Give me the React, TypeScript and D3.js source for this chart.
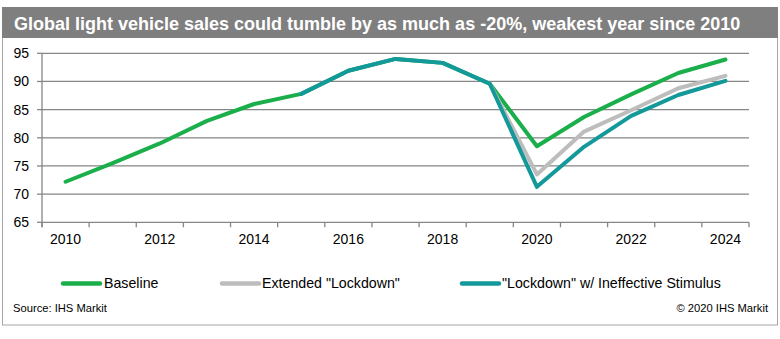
import React from "react";
import * as d3 from "d3";

const years = [2010, 2011, 2012, 2013, 2014, 2015, 2016, 2017, 2018, 2019, 2020, 2021, 2022, 2023, 2024];
const baseline = [72.2, 75.5, 79.0, 83.0, 86.0, 87.8, 91.9, 94.0, 93.3, 89.6, 78.5, 83.7, 87.7, 91.5, 93.9];
const extendedLockdown = [null, null, null, null, null, null, null, null, null, 89.6, 73.5, 81.1, 84.9, 88.8, 91.0];
const ineffectiveStimulus = [null, null, null, null, null, 87.8, 91.9, 94.0, 93.3, 89.6, 71.3, 78.4, 83.9, 87.6, 90.1];
const yTicks = [65, 70, 75, 80, 85, 90, 95];
const xLabelYears = [2010, 2012, 2014, 2016, 2018, 2020, 2022, 2024];
const seriesNames = ["Baseline", "Extended \"Lockdown\"", "\"Lockdown\" w/ Ineffective Stimulus"];
const title = "Global light vehicle sales could tumble by as much as -20%, weakest year since 2010";

const COLORS = ["#1aaf4b", "#bdbdbd", "#14999a"];
const FONT = "Arial, 'Liberation Sans', Helvetica, sans-serif";

export default function App() {
  const W = 780, H = 339;
  const x0 = 42, x1 = 749, yTop = 53.3, yBot = 222.3;
  const x = d3.scaleBand<number>().domain(years).range([x0, x1]).padding(0);
  const y = d3.scaleLinear().domain([65, 95]).range([yBot, yTop]);
  const cx = (yr: number) => (x(yr) as number) + x.bandwidth() / 2;

  const line = d3
    .line<number | null>()
    .defined((d) => d != null)
    .x((_, i) => cx(years[i]))
    .y((d) => y(d as number));

  const series = [baseline, extendedLockdown, ineffectiveStimulus];
  const boundaries = years.map((yr) => x(yr) as number).concat([x1]);

  const legendItems = [
    { x: 63, tx: 104 },
    { x: 222, tx: 262 },
    { x: 462, tx: 502 },
  ];

  return (
    <svg width={W} height={H} style={{ position: "absolute", left: 0, top: 0, background: "#fff" }} fontFamily={FONT}>
      {/* frame */}
      <rect x={2.5} y={7.5} width={775} height={317.5} fill="#fff" stroke="#a6a6a6" strokeWidth={1} />
      {/* title bar */}
      <rect x={2} y={7} width={776} height={31} fill="#7f7f7f" />
      <text x={14} y={29.5} fill="#fff" fontWeight="bold" fontSize={18}>
        {title}
      </text>

      {/* gridlines */}
      {yTicks.map((t) => (
        <line key={"g" + t} x1={x0} x2={x1} y1={y(t)} y2={y(t)} stroke="#868686" strokeWidth={1.3} />
      ))}
      {/* y axis */}
      <line x1={x0} x2={x0} y1={yTop} y2={yBot + 5} stroke="#868686" strokeWidth={1.3} />
      {yTicks.map((t) => (
        <g key={"yt" + t}>
          <line x1={x0 - 5} x2={x0} y1={y(t)} y2={y(t)} stroke="#868686" strokeWidth={1.3} />
          <text x={29} y={y(t)} dy="0.35em" textAnchor="end" fontSize={14} fill="#000">
            {t}
          </text>
        </g>
      ))}
      {/* x ticks */}
      {boundaries.map((bx, i) => (
        <line key={"xt" + i} x1={bx} x2={bx} y1={yBot} y2={yBot + 5} stroke="#868686" strokeWidth={1.3} />
      ))}
      {xLabelYears.map((yr) => (
        <text key={"xl" + yr} x={cx(yr)} y={239.5} dy="0.35em" textAnchor="middle" fontSize={14} fill="#000">
          {yr}
        </text>
      ))}

      {/* series */}
      {series.map((s, i) => (
        <path
          key={"s" + i}
          d={line(s) || ""}
          fill="none"
          stroke={COLORS[i]}
          strokeWidth={4}
          strokeLinejoin="round"
          strokeLinecap="round"
        />
      ))}

      {/* legend */}
      {legendItems.map((it, i) => (
        <g key={"lg" + i}>
          <line x1={it.x} x2={it.x + 37} y1={283.5} y2={283.5} stroke={COLORS[i]} strokeWidth={4.5} strokeLinecap="round" />
          <text x={it.tx} y={283.5} dy="0.35em" fontSize={14.2} fill="#000">
            {seriesNames[i]}
          </text>
        </g>
      ))}

      {/* footer */}
      <text x={13} y={308.5} dy="0.35em" fontSize={11.2} fill="#000">
        Source: IHS Markit
      </text>
      <text x={768} y={308.5} dy="0.35em" fontSize={11.2} textAnchor="end" fill="#000">
        © 2020 IHS Markit
      </text>
    </svg>
  );
}
